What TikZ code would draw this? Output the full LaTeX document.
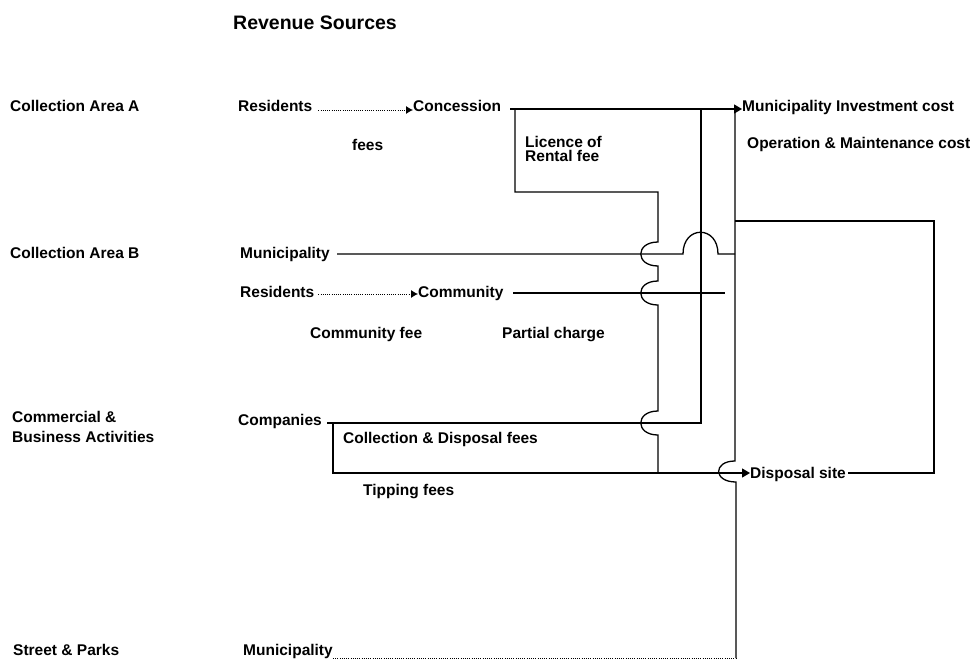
\documentclass[tikz,border=0pt]{standalone}
\usepackage{fontspec}
\setmainfont{Liberation Sans}
\usetikzlibrary{arrows.meta}
\begin{document}
\begin{tikzpicture}[x=1pt,y=-1pt,
  lbl/.style={font=\bfseries\fontsize{15.5}{14}\selectfont, inner sep=0pt, anchor=base west},
  mlbl/.style={inner sep=0pt, anchor=west, align=left},
  wire/.style={line width=1.3pt},
  dotline/.style={line width=0.9pt, dash pattern=on 1pt off 1.2pt},
  bigtip/.style={-{Triangle[length=8pt,width=9pt]}},
  smalltip/.style={-{Latex[length=7pt,width=8pt]}}]
\useasboundingbox[fill=white] (0,0) rectangle (979,666);

% ---- texts ----
\node[lbl, font=\bfseries\fontsize{19.5}{20}\selectfont] (title) at (233,30) {Revenue Sources};
\node[lbl] (areaA) at (10,112) {Collection Area A};
\node[lbl] (areaB) at (10,258) {Collection Area B};
\node[mlbl, font=\bfseries\fontsize{15.5}{20}\selectfont] (comm) at (12,427) {Commercial \&\\Business Activities};
\node[lbl] (street) at (13,655) {Street \& Parks};

\node[lbl] (resA) at (238,112) {Residents};
\node[lbl] (conc) at (413,112) {Concession};
\node[lbl] (fees) at (352,150) {fees};
\node[mlbl, font=\bfseries\fontsize{15.5}{14}\selectfont] (lic) at (525,149) {Licence of\\Rental fee};
\node[lbl] (invest) at (742,112) {Municipality Investment cost};
\node[lbl] (om) at (747,148) {Operation \& Maintenance cost};

\node[lbl] (munB) at (240,258) {Municipality};
\node[lbl] (resB) at (240,297) {Residents};
\node[lbl] (community) at (418,297) {Community};
\node[lbl] (cfee) at (310,338) {Community fee};
\node[lbl] (partial) at (502,338) {Partial charge};

\node[lbl] (companies) at (238,425) {Companies};
\node[lbl] (cdf) at (343,443) {Collection \& Disposal fees};
\node[lbl] (tipping) at (363,495) {Tipping fees};
\node[lbl] (disposal) at (750,478) {Disposal site};

\node[lbl] (munS) at (243,655) {Municipality};

% ---- junction coordinates ----
\coordinate (topS) at (510,109);
\coordinate (boxTL) at (515,109);
\coordinate (boxBL) at (515,192);
\coordinate (boxBR) at (658,192);
\coordinate (v1bot) at (658,473);
\coordinate (v2top) at (701,109);
\coordinate (v2bot) at (701,423);
\coordinate (v3top) at (735,109);
\coordinate (v3bot) at (736,658);
\coordinate (loopTL) at (735,221);
\coordinate (loopTR) at (934,221);
\coordinate (loopBR) at (934,473);
\coordinate (dispE) at (848,473);
\coordinate (munBS) at (337,254);
\coordinate (munBE) at (735,254);
\coordinate (comS) at (513,293);
\coordinate (comE) at (725,293);
\coordinate (cmpS) at (327,423);
\coordinate (cmpBox) at (333,423);
\coordinate (tipC) at (333,473);
\coordinate (munSS) at (336,658);

% ---- dotted arrows ----
\draw[dotline, smalltip] (resA.east |- 0,110) ++(6,0) -- (conc.west |- 0,110);
\draw[dotline, smalltip] (resB.east |- 0,294) ++(4,0) -- (community.west |- 0,294);
\draw[dotline] (munS.east |- munSS) -- (v3bot);

% ---- top line to investment cost ----
\draw[wire, bigtip] (topS) -- (topS -| invest.west);
% licence box and its vertical with hops
\draw[wire] (boxTL) -- (boxBL) -- (boxBR) -- (658,242)
  .. controls (635,242) and (635,266) .. (658,266) -- (658,281)
  .. controls (635,281) and (635,305) .. (658,305) -- (658,411)
  .. controls (635,411) and (635,435) .. (658,435) -- (v1bot);
% second vertical
\draw[wire] (v2top) -- (v2bot) -- (cmpS);
% main vertical with hop over tipping line
\draw[wire] (v3top) -- (735,461)
  .. controls (713,461) and (713,482) .. (736,482) -- (v3bot);
% municipality B line with hop
\draw[wire] (munBS) -- (683,254) .. controls (683,225) and (718,225) .. (718,254) -- (munBE);
% community line
\draw[wire] (comS) -- (comE);
% companies box / tipping fees line
\draw[wire, bigtip] (cmpBox) -- (tipC) -- (tipC -| disposal.west);
% operation loop
\draw[wire] (loopTL) -- (loopTR) -- (loopBR) -- (dispE);
\end{tikzpicture}
\end{document}
